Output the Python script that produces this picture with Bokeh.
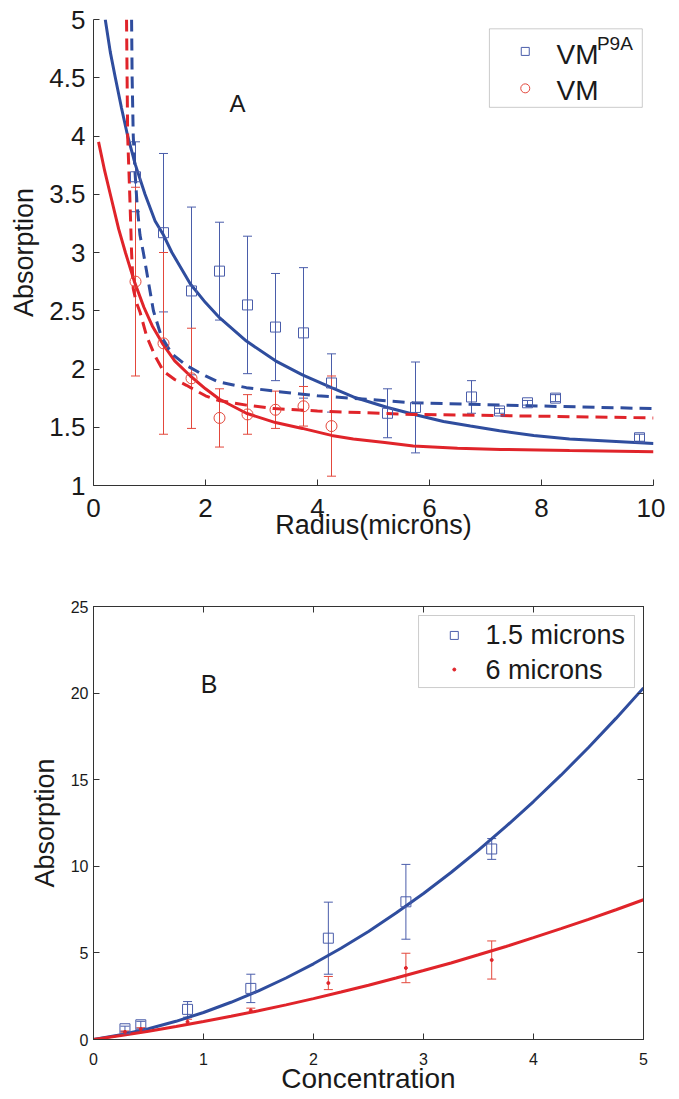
from bokeh.plotting import figure
from bokeh.models import (ColumnDataSource, Whisker, TeeHead, FixedTicker, LinearAxis,
                          Range1d, BoxAnnotation, Label)
from bokeh.layouts import column
from bokeh.embed import file_html
from bokeh.resources import INLINE

# ---------------- data: panel A (absorption vs radius) ----------------
xA_p9a = [0.75, 1.25, 1.75, 2.25, 2.75, 3.25, 3.75, 4.25, 5.25, 5.75, 6.75, 7.25, 7.75, 8.25, 9.75]
yA_p9a = [3.65, 3.17, 2.67, 2.84, 2.55, 2.36, 2.31, 1.88, 1.62, 1.67, 1.76, 1.64, 1.71, 1.75, 1.41]
eA_p9a = [0.30, 0.68, 0.72, 0.42, 0.59, 0.46, 0.56, 0.25, 0.21, 0.39, 0.14, 0.02, 0.02, 0.03, 0.03]

xA_vm = [0.75, 1.25, 1.75, 2.25, 2.75, 3.25, 3.75, 4.25]
yA_vm = [2.75, 2.22, 1.92, 1.58, 1.61, 1.65, 1.68, 1.51]
eA_vm = [0.81, 0.78, 0.43, 0.25, 0.17, 0.16, 0.17, 0.43]

# fitted curves
fitA_p9a_x = [0.21, 0.30, 0.39, 0.50, 0.61, 0.75, 0.92, 1.10, 1.25, 1.40, 1.73, 2.00, 2.25, 2.73,
              3.25, 3.73, 4.25, 4.64, 5.25, 5.73, 6.25, 6.73, 7.25, 7.86, 8.50, 9.25, 10.0]
fitA_p9a_y = [5.00, 4.72, 4.50, 4.24, 4.00, 3.75, 3.50, 3.27, 3.15, 3.00, 2.73, 2.57, 2.44, 2.24,
              2.07, 1.95, 1.84, 1.76, 1.67, 1.61, 1.55, 1.51, 1.47, 1.43, 1.40, 1.38, 1.36]
fitA_vm_x = [0.09, 0.20, 0.30, 0.45, 0.57, 0.73, 0.90, 1.05, 1.23, 1.45, 1.73, 2.00, 2.25, 2.73,
             3.25, 3.73, 4.25, 4.64, 5.20, 5.71, 6.50, 7.27, 8.50, 10.0]
fitA_vm_y = [3.95, 3.70, 3.50, 3.20, 3.00, 2.75, 2.53, 2.37, 2.22, 2.07, 1.94, 1.83, 1.74, 1.62,
             1.54, 1.49, 1.43, 1.40, 1.37, 1.34, 1.32, 1.31, 1.30, 1.29]
dashA_p9a_x = [0.68, 0.69, 0.71, 0.74, 0.78, 0.83, 0.89, 0.98, 1.07, 1.21, 1.40, 1.66, 2.00, 2.23,
               2.73, 3.23, 4.00, 4.59, 5.71, 7.27, 10.0]
dashA_p9a_y = [5.00, 4.50, 4.00, 3.70, 3.40, 3.15, 3.00, 2.75, 2.50, 2.28, 2.13, 2.03, 1.94, 1.89,
               1.84, 1.81, 1.77, 1.75, 1.71, 1.69, 1.66]
dashA_vm_x = [0.59, 0.60, 0.61, 0.64, 0.66, 0.68, 0.71, 0.76, 0.83, 0.95, 1.10, 1.25, 1.45, 1.66,
              2.00, 2.23, 2.73, 3.23, 4.00, 4.52, 5.71, 7.27, 10.0]
dashA_vm_y = [5.00, 4.50, 4.00, 3.60, 3.31, 3.00, 2.69, 2.58, 2.49, 2.28, 2.11, 1.98, 1.91, 1.86,
              1.77, 1.73, 1.69, 1.66, 1.64, 1.63, 1.61, 1.60, 1.58]

xticks_A = [0, 2, 4, 6, 8, 10]
xtick_labels_A = ["0", "2", "4", "6", "8", "10"]
yticks_A = [1, 1.5, 2, 2.5, 3, 3.5, 4, 4.5, 5]
ytick_labels_A = ["1", "1.5", "2", "2.5", "3", "3.5", "4", "4.5", "5"]

# ---------------- data: panel B (absorption vs concentration) ----------------
xB = [0.286, 0.43, 0.855, 1.43, 2.135, 2.84, 3.62]
yB_15 = [0.62, 0.85, 1.74, 2.95, 5.85, 7.95, 11.0]
eB_15 = [0.15, 0.20, 0.45, 0.82, 2.08, 2.16, 0.60]
yB_6 = [0.44, 0.60, 1.02, 1.68, 3.26, 4.13, 4.59]
eB_6 = [0.05, 0.08, 0.15, 0.13, 0.38, 0.85, 1.10]

fitB_x = [0, 0.25, 0.5, 0.75, 1.0, 1.25, 1.5, 1.75, 2.0, 2.25, 2.5, 2.75, 3.0, 3.25, 3.5,
          3.75, 4.0, 4.25, 4.5, 4.75, 5.0]
fitB_15_y = [0, 0.27, 0.62, 1.05, 1.56, 2.15, 2.81, 3.55, 4.37, 5.27, 6.24, 7.30, 8.43, 9.64,
             10.93, 12.30, 13.74, 15.26, 16.86, 18.54, 20.30]
fitB_6_y = [0, 0.23, 0.48, 0.75, 1.04, 1.34, 1.66, 2.00, 2.36, 2.74, 3.13, 3.55, 3.98, 4.42,
            4.89, 5.37, 5.88, 6.40, 6.94, 7.49, 8.07]

xticks_B = [0, 1, 2, 3, 4, 5]
xtick_labels_B = ["0", "1", "2", "3", "4", "5"]
yticks_B = [0, 5, 10, 15, 20, 25]
ytick_labels_B = ["0", "5", "10", "15", "20", "25"]

# ---------------- styles ----------------
FONT = "Liberation Sans"
BLUE = "#2f4d9e"
RED = "#e0242a"
BLUE_M = "#4a5daa"
RED_M = "#e3483c"
AX = "#333333"
TXT = "#1a1a1a"


def style_axis(ax, tick_size, label_size, label_standoff, tick_standoff):
    ax.axis_line_color = AX
    ax.axis_line_width = 1
    ax.major_tick_line_color = AX
    ax.major_tick_in = 6
    ax.major_tick_out = 0
    ax.minor_tick_line_color = None
    ax.major_label_text_font = FONT
    ax.major_label_text_font_size = tick_size
    ax.major_label_text_color = TXT
    ax.major_label_standoff = tick_standoff
    ax.axis_label_text_font = FONT
    ax.axis_label_text_font_size = label_size
    ax.axis_label_text_font_style = "normal"
    ax.axis_label_text_color = TXT
    ax.axis_label_standoff = label_standoff


def errorbars(p, x, y, e, color, head):
    src = ColumnDataSource(dict(x=x, lo=[a - b for a, b in zip(y, e)], hi=[a + b for a, b in zip(y, e)]))
    w = Whisker(base="x", lower="lo", upper="hi", source=src, line_color=color, line_width=1,
                upper_head=TeeHead(size=head, line_color=color, line_width=1),
                lower_head=TeeHead(size=head, line_color=color, line_width=1))
    p.add_layout(w)


# ---------------- panel A ----------------
pA = figure(frame_width=560, frame_height=466, x_range=Range1d(0, 10), y_range=Range1d(1, 5),
            output_backend="svg", toolbar_location=None,
            min_border_left=83, min_border_right=18, min_border_top=19, min_border_bottom=73)
pA.outline_line_color = None
pA.grid.grid_line_color = None
pA.background_fill_color = "white"
pA.border_fill_color = "white"

pA.xaxis.ticker = FixedTicker(ticks=xticks_A)
pA.xaxis.major_label_overrides = dict(zip(xticks_A, xtick_labels_A))
pA.yaxis.ticker = FixedTicker(ticks=yticks_A)
pA.yaxis.major_label_overrides = dict(zip(yticks_A, ytick_labels_A))
pA.xaxis.axis_label = "Radius(microns)"
pA.yaxis.axis_label = "Absorption"
style_axis(pA.xaxis[0], "26px", "27px", -10, 13)
style_axis(pA.yaxis[0], "26px", "27px", 7, 8)

pA.line(fitA_p9a_x, fitA_p9a_y, line_color=BLUE, line_width=3)
pA.line(fitA_vm_x, fitA_vm_y, line_color=RED, line_width=3)
pA.line(dashA_p9a_x, dashA_p9a_y, line_color=BLUE, line_width=3, line_dash="12 7")
pA.line(dashA_vm_x, dashA_vm_y, line_color=RED, line_width=3, line_dash="12 7")

errorbars(pA, xA_p9a, yA_p9a, eA_p9a, BLUE_M, 9)
errorbars(pA, xA_vm, yA_vm, eA_vm, RED_M, 9)
pA.scatter(xA_p9a, yA_p9a, marker="square", size=10, fill_color=None, line_color=BLUE_M, line_width=1)
pA.scatter(xA_vm, yA_vm, marker="circle", size=11, fill_color=None, line_color=RED_M, line_width=1)

pA.add_layout(Label(x=2.57, y=4.28, text="A", text_font=FONT, text_font_size="24px",
                    text_align="center", text_baseline="middle", text_color=TXT))

# legend A (manual, to allow the superscript)
pA.add_layout(BoxAnnotation(left=7.07, right=9.80, bottom=4.246, top=4.92, fill_color="white",
                            fill_alpha=1, line_color="#555555", line_width=1, level="underlay"))
pA.scatter([7.71], [4.726], marker="square", size=8, fill_color=None, line_color=BLUE_M, line_width=1)
pA.scatter([7.71], [4.409], marker="circle", size=9, fill_color=None, line_color=RED_M, line_width=1)
pA.add_layout(Label(x=8.27, y=4.70, text="VM", text_font=FONT, text_font_size="28px",
                    text_baseline="middle", text_color=TXT))
pA.add_layout(Label(x=8.99, y=4.79, text="P9A", text_font=FONT, text_font_size="19px",
                    text_baseline="middle", text_color=TXT))
pA.add_layout(Label(x=8.27, y=4.39, text="VM", text_font=FONT, text_font_size="28px",
                    text_baseline="middle", text_color=TXT))

# ---------------- panel B ----------------
pB = figure(frame_width=550, frame_height=433, x_range=Range1d(0, 5), y_range=Range1d(0, 25),
            output_backend="svg", toolbar_location=None,
            min_border_left=93, min_border_right=20, min_border_top=48, min_border_bottom=51)
pB.outline_line_color = AX
pB.grid.grid_line_color = None
pB.background_fill_color = "white"
pB.border_fill_color = "white"

pB.xaxis.ticker = FixedTicker(ticks=xticks_B)
pB.xaxis.major_label_overrides = dict(zip(xticks_B, xtick_labels_B))
pB.yaxis.ticker = FixedTicker(ticks=yticks_B)
pB.yaxis.major_label_overrides = dict(zip(yticks_B, ytick_labels_B))
pB.xaxis.axis_label = "Concentration"
pB.yaxis.axis_label = "Absorption"
style_axis(pB.xaxis[0], "16px", "28px", -5, 13)
style_axis(pB.yaxis[0], "16px", "27px", 8, 5)

top_ax = LinearAxis(ticker=FixedTicker(ticks=xticks_B))
right_ax = LinearAxis(ticker=FixedTicker(ticks=yticks_B))
for ax in (top_ax, right_ax):
    style_axis(ax, "0px", "0px", 0, 0)
    ax.major_label_text_color = None
pB.add_layout(top_ax, "above")
pB.add_layout(right_ax, "right")

pB.line(fitB_x, fitB_15_y, line_color=BLUE, line_width=3)
pB.line(fitB_x, fitB_6_y, line_color=RED, line_width=3)
errorbars(pB, xB, yB_15, eB_15, BLUE_M, 9)
errorbars(pB, xB, yB_6, eB_6, RED_M, 9)
pB.scatter(xB, yB_15, marker="square", size=10, fill_color=None, line_color=BLUE_M, line_width=1)
pB.scatter(xB, yB_6, marker="circle", size=3, fill_color=RED, line_color=RED)

pB.add_layout(Label(x=1.05, y=20.55, text="B", text_font=FONT, text_font_size="25px",
                    text_align="center", text_baseline="middle", text_color=TXT))

pB.add_layout(BoxAnnotation(left=2.955, right=4.918, bottom=20.32, top=24.48, fill_color="white",
                            fill_alpha=1, line_color="#555555", line_width=1, level="underlay"))
pB.scatter([3.28], [23.33], marker="square", size=8, fill_color=None, line_color=BLUE_M, line_width=1)
pB.scatter([3.28], [21.36], marker="circle", size=3, fill_color=RED, line_color=RED)
pB.add_layout(Label(x=3.564, y=23.33, text="1.5 microns", text_font=FONT, text_font_size="27px",
                    text_baseline="middle", text_color=TXT))
pB.add_layout(Label(x=3.564, y=21.36, text="6 microns", text_font=FONT, text_font_size="27px",
                    text_baseline="middle", text_color=TXT))

layout = column(pA, pB, spacing=0)
open("out.html", "w").write(file_html(layout, INLINE))
